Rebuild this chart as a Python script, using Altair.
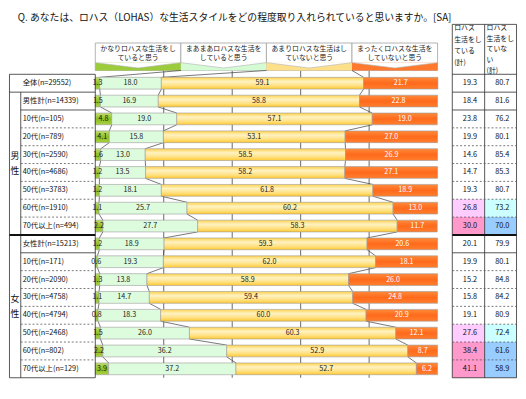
import altair as alt
import pandas as pd

# ---------------- data ----------------
TITLE = "Q. あなたは、ロハス（LOHAS）な生活スタイルをどの程度取り入れられていると思いますか。[SA]"
CAT_LINE1 = ["かなりロハスな生活をし", "まあまあロハスな生活を", "あまりロハスな生活はし", "まったくロハスな生活を"]
CAT_LINE2 = ["ていると思う", "していると思う", "ていないと思う", "していないと思う"]
ROW_LABELS = ["全体(n=29552)", "男性計(n=14339)", "10代(n=105)", "20代(n=789)", "30代(n=2590)",
              "40代(n=4686)", "50代(n=3783)", "60代(n=1910)", "70代以上(n=494)", "女性計(n=15213)",
              "10代(n=171)", "20代(n=2090)", "30代(n=4758)", "40代(n=4794)", "50代(n=2468)",
              "60代(n=802)", "70代以上(n=129)"]
GROUP_CHARS = [["男", "性"], ["女", "性"]]
GROUP_FIRST = [1, 9]
GROUP_LAST = [8, 16]
KANARI = [1.3, 1.5, 4.8, 4.1, 1.6, 1.2, 1.2, 1.1, 2.2, 1.2, 0.6, 1.3, 1.1, 0.8, 1.5, 2.2, 3.9]
MAAMAA = [18.0, 16.9, 19.0, 15.8, 13.0, 13.5, 18.1, 25.7, 27.7, 18.9, 19.3, 13.8, 14.7, 18.3, 26.0, 36.2, 37.2]
AMARI = [59.1, 58.8, 57.1, 53.1, 58.5, 58.2, 61.8, 60.2, 58.3, 59.3, 62.0, 58.9, 59.4, 60.0, 60.3, 52.9, 52.7]
MATTAKU = [21.7, 22.8, 19.0, 27.0, 26.9, 27.1, 18.9, 13.0, 11.7, 20.6, 18.1, 26.0, 24.8, 20.9, 12.1, 8.7, 6.2]
LOHAS_YES = [19.3, 18.4, 23.8, 19.9, 14.6, 14.7, 19.3, 26.8, 30.0, 20.1, 19.9, 15.2, 15.8, 19.1, 27.6, 38.4, 41.1]
LOHAS_NO = [80.7, 81.6, 76.2, 80.1, 85.4, 85.3, 80.7, 73.2, 70.0, 79.9, 80.1, 84.8, 84.2, 80.9, 72.4, 61.6, 58.9]
HEAD_YES = ["ロハス", "生活をし", "ている", "(計)"]
HEAD_NO = ["ロハス", "生活をし", "ていな", "い", "(計)"]
TICKS = [0, 20, 40, 60, 80, 100]
GRID = [20, 40, 60, 80]

# ---------------- layout ----------------
FONT = "Noto Sans CJK JP"
W, H = 518, 377
X0, X100 = 88.0, 437.0
PXU = (X100 - X0) / 100.0
Y0, RH = 73.0, 18.2
HALF = 0.33


def ux(px):
    return (px - X0) / PXU


def uy(py):
    return (py - Y0) / RH


xs = alt.Scale(domain=[ux(0), ux(W)], nice=False, zero=False)
ys = alt.Scale(domain=[uy(0), uy(H)], nice=False, zero=False, reverse=True)


def X(f, axis=None):
    return alt.X(field=f, type="quantitative", scale=xs, axis=axis)


def Y(f):
    return alt.Y(field=f, type="quantitative", scale=ys, axis=None)


def grad(stops):
    return alt.LinearGradient(gradient="linear", x1=0, y1=0, x2=0, y2=1,
                              stops=[alt.GradientStop(offset=o, color=c) for o, c in stops])


FILLS = [
    grad([(0, "#C3E070"), (0.5, "#8DBE22"), (1, "#A8D042")]),
    "#DDFCDD",
    grad([(0, "#FFD24A"), (0.35, "#FFF2C2"), (0.7, "#FFE184"), (1, "#FFC82E")]),
    grad([(0, "#FF8A3A"), (0.5, "#FF6A1C"), (1, "#FF7E2E")]),
]
STRIP = ["#9CCB3C", "#D4FBD4", "#FFE08A", "#FF7A2E"]

n = len(ROW_LABELS)
series = [KANARI, MAAMAA, AMARI, MATTAKU]

# bars
recs = []
cums = []
for i in range(n):
    c = 0.0
    bounds = []
    for k in range(4):
        v = series[k][i]
        recs.append(dict(row=i, cat=k, start=c, end=c + v, mid=c + v / 2, label=f"{v:.1f}",
                         top=i - HALF, bot=i + HALF, tc="#ffffff" if k == 3 else "#1a1a1a"))
        c += v
        bounds.append(c)
    cums.append(bounds)
bars_df = pd.DataFrame(recs)

# connectors
con = []
for k in range(3):
    con.append(dict(x=25 * (k + 1), y=uy(60), x2=cums[0][k], y2=-HALF))
    for i in range(n - 1):
        con.append(dict(x=cums[i][k], y=i + HALF, x2=cums[i + 1][k], y2=i + 1 - HALF))
con_df = pd.DataFrame(con)

grid_df = pd.DataFrame(dict(x=GRID, y=[uy(60)] * len(GRID), y2=[n - 0.5] * len(GRID)))

# header legend
hb = pd.DataFrame(dict(x=[25 * k for k in range(4)], x2=[25 * (k + 1) for k in range(4)],
                       y=[uy(32)] * 4, y2=[uy(60)] * 4, ys=[uy(52)] * 4, col=STRIP))
chev = []
for k in range(4):
    for dx, py in [(0, 52), (12.5, 57.5), (25, 52)]:
        chev.append(dict(k=k, x=25 * k + dx, y=uy(py), y2=uy(52)))
chev_df = pd.DataFrame(chev)
ht = []
for k in range(4):
    ht.append(dict(x=25 * k + 12.5, y=uy(38.5), t=CAT_LINE1[k]))
    ht.append(dict(x=25 * k + 12.5, y=uy(47.5), t=CAT_LINE2[k]))
ht_df = pd.DataFrame(ht)

# tables lines
L, DIV, R = ux(0.5), ux(12), 0.0
RL, RM, RR = ux(452), ux(485), ux(W - 0.5)
rules = []
for b in range(n + 1):
    y = b - 0.5
    if b == 9:
        st = "thick"
    elif b in (0, 1, 2, 10, n):
        st = "solid"
    else:
        st = "dash"
    full = b in (0, 1, 9, n)
    rules.append(dict(x=L if full else DIV, x2=R, y=y, y2=y, st=st))
    rules.append(dict(x=RL, x2=RR, y=y, y2=y, st=st))
for xv, ya in [(L, -0.5), (DIV, 0.5), (R, -0.5)]:
    rules.append(dict(x=xv, x2=xv, y=ya, y2=n - 0.5, st="solid"))
for xv in (RL, RM, RR):
    rules.append(dict(x=xv, x2=xv, y=uy(13), y2=n - 0.5, st="solid"))
rules.append(dict(x=RL, x2=RR, y=uy(13), y2=uy(13), st="solid"))
rules_df = pd.DataFrame(rules)

lab_df = pd.DataFrame(dict(x=[ux(14)] * n, y=list(range(n)), t=ROW_LABELS))
grp = []
for g in range(2):
    mid = (GROUP_FIRST[g] + GROUP_LAST[g]) / 2
    grp.append(dict(x=ux(6), y=mid - 0.42, t=GROUP_CHARS[g][0]))
    grp.append(dict(x=ux(6), y=mid + 0.42, t=GROUP_CHARS[g][1]))
grp_df = pd.DataFrame(grp)


def cell_color(v, side):
    if v >= 30 if side == 0 else v <= 70:
        return "#FF99CC" if side == 0 else "#99CCFF"
    if v >= 25 if side == 0 else v <= 75:
        return "#FFCCFF" if side == 0 else "#CCFFFF"
    return None


cells = []
for i in range(1, n):
    c0 = cell_color(LOHAS_YES[i], 0)
    c1 = cell_color(LOHAS_NO[i], 1)
    if c0:
        cells.append(dict(x=RL, x2=RM, y=i - 0.5, y2=i + 0.5, col=c0))
    if c1:
        cells.append(dict(x=RM, x2=RR, y=i - 0.5, y2=i + 0.5, col=c1))
cells_df = pd.DataFrame(cells)

rv = []
for i in range(n):
    rv.append(dict(x=ux(470), y=i, t=f"{LOHAS_YES[i]:.1f}"))
    rv.append(dict(x=ux(503), y=i, t=f"{LOHAS_NO[i]:.1f}"))
rv_df = pd.DataFrame(rv)
rh1 = pd.DataFrame(dict(x=[ux(454)] * len(HEAD_YES), y=[uy(17 + 11.7 * j) for j in range(len(HEAD_YES))], t=HEAD_YES))
rh2 = pd.DataFrame(dict(x=[ux(487)] * len(HEAD_NO), y=[uy(17 + 10.8 * j) for j in range(len(HEAD_NO))], t=HEAD_NO))

title_df = pd.DataFrame(dict(x=[ux(9)], y=[uy(7)], t=[TITLE]))

# ---------------- layers ----------------
ax = alt.Axis(values=TICKS, labelExpr="datum.value + '%'", domain=False, ticks=False, tickSize=0,
              grid=False, title=None, labelFontSize=8, labelPadding=4, labelColor="#222",
              labelFont=FONT, labelFlush=False)

layers = []
layers.append(alt.Chart(cells_df).mark_rect(strokeWidth=0).encode(
    x=X("x"), x2="x2:Q", y=Y("y"), y2="y2:Q", fill=alt.Fill("col:N", scale=None)))
layers.append(alt.Chart(grid_df).mark_rule(color="#666666", strokeWidth=1).encode(
    x=X("x"), y=Y("y"), y2="y2:Q"))
# header legend
layers.append(alt.Chart(hb).mark_rect(fill="white", stroke="#a0a0a0", strokeWidth=0.8).encode(
    x=X("x"), x2="x2:Q", y=Y("y"), y2="y2:Q"))
layers.append(alt.Chart(hb).mark_rect(strokeWidth=0).encode(
    x=X("x"), x2="x2:Q", y=Y("ys"), y2="y2:Q", fill=alt.Fill("col:N", scale=None)))
layers.append(alt.Chart(chev_df).mark_area(color="white", orient="vertical").encode(
    x=X("x"), y=Y("y"), y2="y2:Q", detail="k:N"))
layers.append(alt.Chart(chev_df).mark_line(color="#b0b0b0", strokeWidth=0.6).encode(
    x=X("x"), y=Y("y"), detail="k:N"))
layers.append(alt.Chart(ht_df).mark_text(font=FONT, fontSize=7, color="#1a1a1a", baseline="middle").encode(
    x=X("x"), y=Y("y"), text="t:N"))
# connectors
layers.append(alt.Chart(con_df).mark_rule(color="#3a3a3a", strokeWidth=0.7).encode(
    x=X("x"), x2="x2:Q", y=Y("y"), y2="y2:Q"))
# bars
for k in range(4):
    layers.append(alt.Chart(bars_df).transform_filter(alt.datum.cat == k).mark_rect(
        fill=FILLS[k], stroke="#9a9a9a", strokeWidth=0.6).encode(
        x=X("start", ax if k == 0 else None), x2="end:Q", y=Y("top"), y2="bot:Q"))
layers.append(alt.Chart(bars_df).mark_text(font=FONT, fontSize=7.3, baseline="middle").encode(
    x=X("mid"), y=Y("row"), text="label:N", color=alt.Color("tc:N", scale=None)))
# table lines
layers.append(alt.Chart(rules_df).transform_filter(alt.datum.st == "solid").mark_rule(
    color="#2a2a2a", strokeWidth=0.8).encode(x=X("x"), x2="x2:Q", y=Y("y"), y2="y2:Q"))
layers.append(alt.Chart(rules_df).transform_filter(alt.datum.st == "dash").mark_rule(
    color="#555555", strokeWidth=0.8, strokeDash=[2, 2]).encode(x=X("x"), x2="x2:Q", y=Y("y"), y2="y2:Q"))
layers.append(alt.Chart(rules_df).transform_filter(alt.datum.st == "thick").mark_rule(
    color="#111111", strokeWidth=2).encode(x=X("x"), x2="x2:Q", y=Y("y"), y2="y2:Q"))
# table texts
layers.append(alt.Chart(lab_df).mark_text(font=FONT, fontSize=7.5, align="left", baseline="middle",
                                          color="#111").encode(x=X("x"), y=Y("y"), text="t:N"))
layers.append(alt.Chart(grp_df).mark_text(font=FONT, fontSize=9, baseline="middle",
                                          color="#111").encode(x=X("x"), y=Y("y"), text="t:N"))
layers.append(alt.Chart(rv_df).mark_text(font=FONT, fontSize=7.5, baseline="middle",
                                         color="#111").encode(x=X("x"), y=Y("y"), text="t:N"))
layers.append(alt.Chart(rh1).mark_text(font=FONT, fontSize=7, align="left", baseline="middle",
                                       color="#111").encode(x=X("x"), y=Y("y"), text="t:N"))
layers.append(alt.Chart(rh2).mark_text(font=FONT, fontSize=7, align="left", baseline="middle",
                                       color="#111").encode(x=X("x"), y=Y("y"), text="t:N"))
layers.append(alt.Chart(title_df).mark_text(font=FONT, fontSize=10, align="left", baseline="middle",
                                            color="#111").encode(x=X("x"), y=Y("y"), text="t:N"))

chart = alt.layer(*layers).properties(width=W, height=H, padding=0, background="white").configure_view(
    stroke=None)

chart.save("out.html", embed_options={"renderer": "svg", "actions": False})
